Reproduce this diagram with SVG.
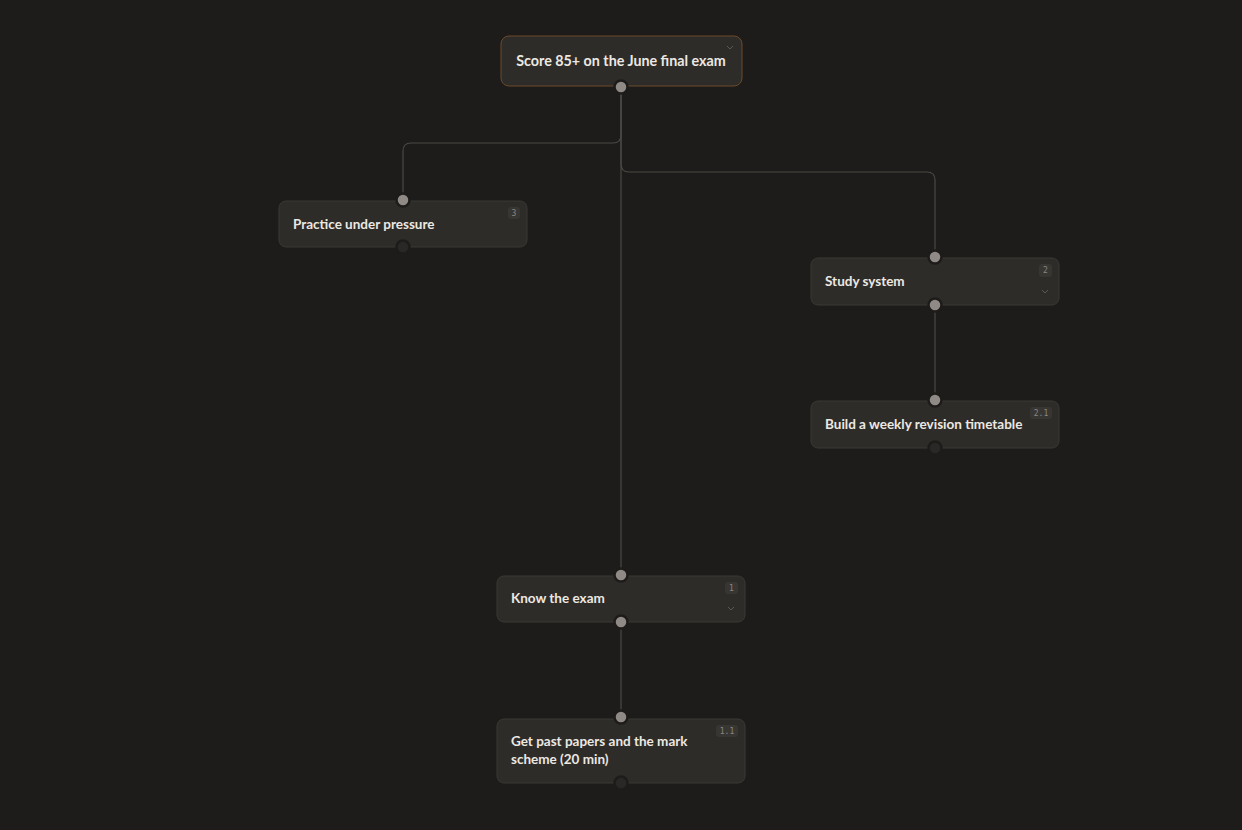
<svg xmlns="http://www.w3.org/2000/svg" width="1242" height="830" viewBox="0 0 1242 830">
<style>
.n{fill:#2e2c29;stroke:#3a3835;stroke-width:1}
.r{fill:#2e2c29;stroke:#6a4a2a;stroke-width:1}
.t{font-family:Lato,"Open Sans",sans-serif;font-weight:700;font-size:13.5px;fill:#ece8e2}
.b{font-family:"DejaVu Sans Mono",monospace;font-size:8px;fill:#8a8680}
.bb{fill:#383633}
.h{fill:#8f8a86;stroke:#1e1c1a;stroke-width:2.5}
.hd{fill:#2a2826;stroke:#1e1c1a;stroke-width:2.5}
.c{fill:none;stroke:#4a4845;stroke-width:1.2}
.ch{fill:none;stroke:#5a5754;stroke-width:1}
</style>
<rect width="1242" height="830" fill="#1e1c1a"/>
<g id="connectors">
<path class="c" d="M621,87 V135 Q621,143 613,143 H411 Q403,143 403,151 V199"/>
<path class="c" d="M621,87 V164 Q621,172 629,172 H927 Q935,172 935,180 V257"/>
<path class="c" d="M621,87 V575"/>
<path class="c" d="M935,305 V400"/>
<path class="c" d="M621,622 V717"/>
</g>
<g id="root">
<rect class="r" x="501" y="36" width="241" height="50" rx="8"/>
<text class="t" x="621" y="66" text-anchor="middle" style="font-size:14.3px">Score 85+ on the June final exam</text>
<path class="ch" d="M727,46 l3,3 l3,-3"/>
<circle class="h" cx="621" cy="87" r="6.5"/>
</g>
<g id="practice">
<rect class="n" x="279" y="201" width="248" height="46" rx="7"/>
<text class="t" x="293" y="229">Practice under pressure</text>
<rect class="bb" x="508" y="207" width="12" height="12" rx="3"/>
<text class="b" x="514" y="216" text-anchor="middle">3</text>
<circle class="h" cx="403" cy="200" r="6.5"/>
<circle class="hd" cx="403" cy="247" r="6.5"/>
</g>
<g id="study">
<rect class="n" x="811" y="258" width="248" height="47" rx="7"/>
<text class="t" x="825" y="286">Study system</text>
<rect class="bb" x="1039" y="264" width="13" height="13" rx="3"/>
<text class="b" x="1045.5" y="273" text-anchor="middle">2</text>
<path class="ch" d="M1042,290 l3,3 l3,-3"/>
<circle class="h" cx="935" cy="257" r="6.5"/>
<circle class="h" cx="935" cy="305" r="6.5"/>
</g>
<g id="timetable">
<rect class="n" x="811" y="401" width="248" height="47" rx="7"/>
<text class="t" x="825" y="429">Build a weekly revision timetable</text>
<rect class="bb" x="1030" y="407" width="22" height="12" rx="3"/>
<text class="b" x="1041" y="416" text-anchor="middle">2.1</text>
<circle class="h" cx="935" cy="400" r="6.5"/>
<circle class="hd" cx="935" cy="448" r="6.5"/>
</g>
<g id="know">
<rect class="n" x="497" y="576" width="248" height="46" rx="7"/>
<text class="t" x="511" y="603">Know the exam</text>
<rect class="bb" x="725" y="582" width="13" height="12" rx="3"/>
<text class="b" x="731.5" y="591" text-anchor="middle">1</text>
<path class="ch" d="M728,607 l3,3 l3,-3"/>
<circle class="h" cx="621" cy="575" r="6.5"/>
<circle class="h" cx="621" cy="622" r="6.5"/>
</g>
<g id="papers">
<rect class="n" x="497" y="719" width="248" height="64" rx="7"/>
<text class="t" x="511" y="746">Get past papers and the mark</text>
<text class="t" x="511" y="764">scheme (20 min)</text>
<rect class="bb" x="716" y="725" width="22" height="12" rx="3"/>
<text class="b" x="727" y="734" text-anchor="middle">1.1</text>
<circle class="h" cx="621" cy="717" r="6.5"/>
<circle class="hd" cx="621" cy="783" r="6.5"/>
</g>
</svg>
